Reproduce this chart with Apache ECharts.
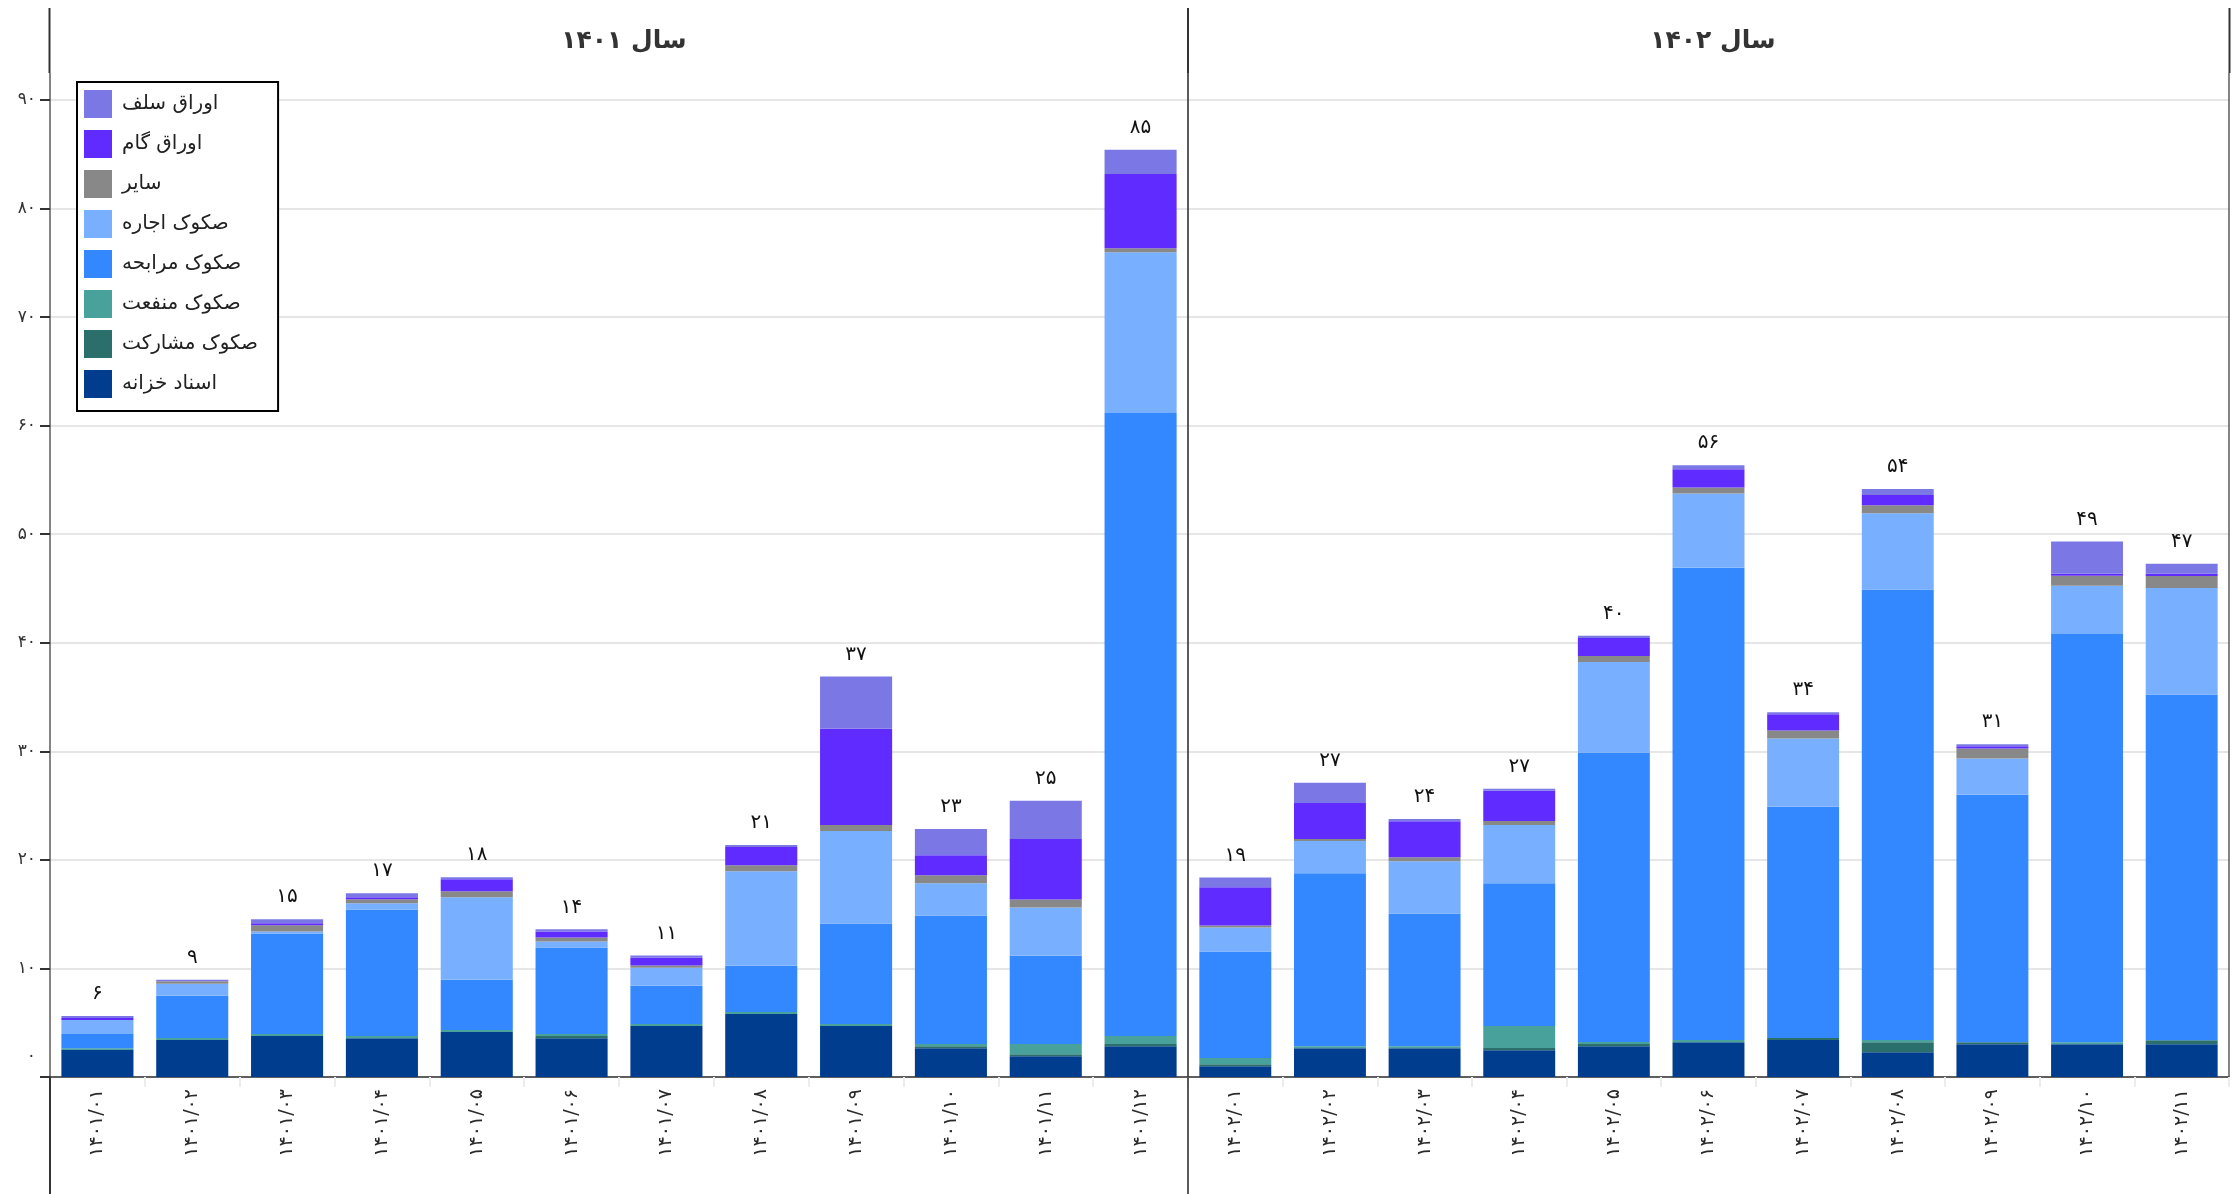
<!DOCTYPE html>
<html>
<head>
<meta charset="utf-8">
<script src="https://cdn.jsdelivr.net/npm/echarts@6/dist/echarts.min.js"></script>
<style>
html,body{margin:0;padding:0;background:#fff;}
#chart{width:2239px;height:1194px;}
</style>
</head>
<body>
<div id="chart"></div>
<script>
// ---- categories ----
const cats1401 = ['۱۴۰۱/۰۱','۱۴۰۱/۰۲','۱۴۰۱/۰۳','۱۴۰۱/۰۴','۱۴۰۱/۰۵','۱۴۰۱/۰۶','۱۴۰۱/۰۷','۱۴۰۱/۰۸','۱۴۰۱/۰۹','۱۴۰۱/۱۰','۱۴۰۱/۱۱','۱۴۰۱/۱۲'];
const cats1402 = ['۱۴۰۲/۰۱','۱۴۰۲/۰۲','۱۴۰۲/۰۳','۱۴۰۲/۰۴','۱۴۰۲/۰۵','۱۴۰۲/۰۶','۱۴۰۲/۰۷','۱۴۰۲/۰۸','۱۴۰۲/۰۹','۱۴۰۲/۱۰','۱۴۰۲/۱۱'];
const panelTitles = ['سال ۱۴۰۱', 'سال ۱۴۰۲'];

// ---- series names (stack order, bottom to top) ----
const seriesNames = ['اسناد خزانه','صکوک مشارکت','صکوک منفعت','صکوک مرابحه','صکوک اجاره','سایر','اوراق گام','اوراق سلف'];

// ---- values: first 12 = 1401, next 11 = 1402 ----
const treasury   = [2.49,3.4,3.77,3.58,4.14,3.58,4.69,5.8,4.69,2.65,1.91,2.84, 0.99,2.65,2.65,2.47,2.84,3.21,3.4,2.28,3.02,3.02,3.02];
const musharakah = [0,0,0,0,0,0.19,0,0,0,0.19,0.19,0.19, 0.19,0,0,0.19,0.19,0,0.19,0.93,0.19,0,0.37];
const manfaat    = [0.15,0.19,0.19,0.19,0.19,0.19,0.19,0.19,0.19,0.19,0.93,0.74, 0.56,0.19,0.19,2.04,0.19,0.19,0,0.19,0,0.19,0];
const murabaha   = [1.32,3.89,9.26,11.67,4.63,7.96,3.52,4.26,9.26,11.85,8.15,57.4, 9.81,15.93,12.22,13.15,26.67,43.5,21.3,41.5,22.8,37.6,31.85];
const ijara      = [1.29,1.11,0.19,0.56,7.59,0.56,1.67,8.7,8.52,2.96,4.44,14.8, 2.22,2.96,4.81,5.37,8.33,6.85,6.3,7.04,3.33,4.44,9.81];
const other      = [0,0.22,0.56,0.37,0.56,0.37,0.19,0.56,0.55,0.74,0.74,0.37, 0.18,0.19,0.37,0.37,0.56,0.56,0.74,0.74,0.93,0.93,1.11];
const gam        = [0.18,0,0.19,0.19,1.11,0.56,0.74,1.67,8.86,1.85,5.56,6.85, 3.53,3.33,3.33,2.78,1.67,1.67,1.48,0.93,0.19,0.19,0.19];
const salaf      = [0.18,0.15,0.37,0.37,0.19,0.19,0.19,0.19,4.82,2.41,3.52,2.22, 0.9,1.85,0.19,0.19,0.19,0.37,0.19,0.56,0.19,2.96,0.93];

// ---- total labels shown above bars ----
const totals1401 = ['۶','۹','۱۵','۱۷','۱۸','۱۴','۱۱','۲۱','۳۷','۲۳','۲۵','۸۵'];
const totals1402 = ['۱۹','۲۷','۲۴','۲۷','۴۰','۵۶','۳۴','۵۴','۳۱','۴۹','۴۷'];

// ---- y ticks ----
const yTicks = [0,10,20,30,40,50,60,70,80,90];

const colors = ['#003d8f','#2a6f6b','#48a19a','#3388ff','#78afff','#888888','#5f2bff','#7b78e6'];
const FONT = "'DejaVu Sans', sans-serif";

const faDigits = '۰۱۲۳۴۵۶۷۸۹';
function toFa(n){ return String(n).replace(/[0-9]/g, d => faDigits[+d]); }

const allValues = [treasury, musharakah, manfaat, murabaha, ijara, other, gam, salaf];
const n1 = cats1401.length;

const series = [];
[0,1].forEach(p => {
  const totals = p === 0 ? totals1401 : totals1402;
  allValues.forEach((arr, si) => {
    const data = p === 0 ? arr.slice(0, n1) : arr.slice(n1);
    const s = {
      name: seriesNames[si],
      type: 'bar',
      xAxisIndex: p,
      yAxisIndex: p,
      stack: 'p' + p,
      data: data,
      barWidth: '76%',
      itemStyle: { color: colors[si] },
      emphasis: { disabled: true },
      animation: false
    };
    if (si === allValues.length - 1) {
      s.label = {
        show: true,
        position: 'top',
        distance: 12,
        fontSize: 20,
        fontWeight: 500,
        color: '#111',
        fontFamily: FONT,
        formatter: prm => totals[prm.dataIndex]
      };
    }
    series.push(s);
  });
});

const yMax = yTicks[yTicks.length - 1];
function yAxis(idx, showLabels){
  return {
    type: 'value', gridIndex: idx, min: yTicks[0], max: yMax, interval: 10,
    axisLine: { show: false },
    axisTick: { show: showLabels, length: 10, lineStyle: { color: '#333', width: 2 } },
    axisLabel: {
      show: showLabels, fontSize: 17, color: '#333', margin: 14, fontFamily: FONT,
      formatter: v => v === 0 ? '{z|' + toFa(v) + '}' : toFa(v),
      rich: { z: { padding: [0,0,40,0], fontSize: 17, color: '#333', fontFamily: FONT } }
    },
    splitLine: { show: true, lineStyle: { color: '#e6e6e6', width: 2 } }
  };
}
function xAxis(idx, cats){
  return {
    type: 'category', gridIndex: idx, data: cats,
    axisLine: { show: true, lineStyle: { color: '#333', width: 1.5 } },
    axisTick: { show: true, alignWithLabel: false, length: 10, lineStyle: { color: '#ececec', width: 2 } },
    axisLabel: { rotate: 90, fontSize: 19, color: '#2a2a2a', margin: 12, fontFamily: FONT, interval: 0 }
  };
}

const lineStyle = w => ({ stroke: '#333', lineWidth: w });
const option = {
  backgroundColor: '#fff',
  animation: false,
  title: [
    { text: panelTitles[0], left: 619, top: 24, textAlign: 'center',
      textStyle: { fontSize: 25, fontWeight: 'bold', color: '#333', fontFamily: FONT } },
    { text: panelTitles[1], left: 1708, top: 24, textAlign: 'center',
      textStyle: { fontSize: 25, fontWeight: 'bold', color: '#333', fontFamily: FONT } }
  ],
  legend: {
    orient: 'vertical', left: 77, top: 82,
    data: seriesNames.slice().reverse(),
    icon: 'rect', itemWidth: 28, itemHeight: 28, itemGap: 12,
    padding: [8, 20, 13, 7],
    borderColor: '#000', borderWidth: 2, backgroundColor: '#fff',
    textStyle: { fontSize: 20, color: '#222', fontFamily: FONT, padding: [0,0,0,5] },
    selectedMode: false
  },
  grid: [
    { left: 50, top: 100, width: 1138, height: 977 },
    { left: 1188, top: 100, width: 1041, height: 977 }
  ],
  xAxis: [xAxis(0, cats1401), xAxis(1, cats1402)],
  yAxis: [yAxis(0, true), yAxis(1, false)],
  series: series,
  graphic: [
    { type: 'line', shape: { x1: 49.5, y1: 8, x2: 49.5, y2: 73 }, style: lineStyle(2), z: 100 },
    { type: 'line', shape: { x1: 1188, y1: 8, x2: 1188, y2: 73 }, style: lineStyle(2), z: 100 },
    { type: 'line', shape: { x1: 2229.5, y1: 8, x2: 2229.5, y2: 73 }, style: lineStyle(2), z: 100 },
    { type: 'line', shape: { x1: 50, y1: 73, x2: 50, y2: 1077 }, style: lineStyle(1.2), z: 100 },
    { type: 'line', shape: { x1: 50, y1: 1077, x2: 50, y2: 1194 }, style: lineStyle(2), z: 100 },
    { type: 'line', shape: { x1: 1188, y1: 73, x2: 1188, y2: 1194 }, style: lineStyle(1.6), z: 100 },
    { type: 'line', shape: { x1: 2229, y1: 73, x2: 2229, y2: 1077 }, style: lineStyle(1.2), z: 100 }
  ]
};

const chart = echarts.init(document.getElementById('chart'), null, { renderer: 'canvas' });
chart.setOption(option);
</script>
</body>
</html>
